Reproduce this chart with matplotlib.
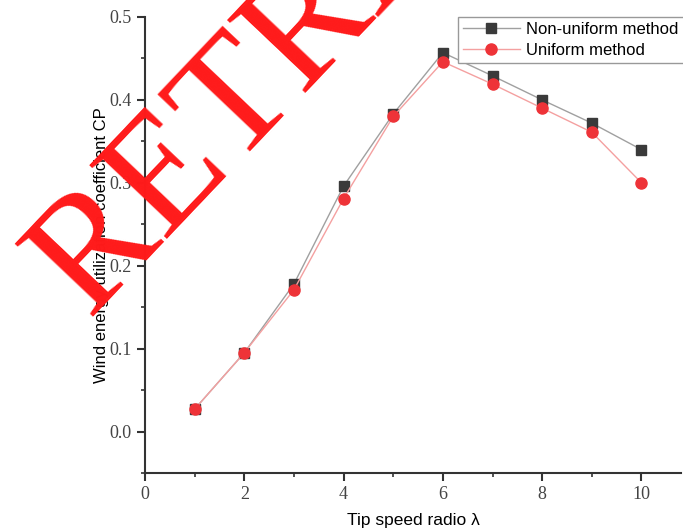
import numpy as np
import matplotlib.pyplot as plt
from matplotlib.ticker import MultipleLocator

# tip speed ratio and power coefficient
tsr = [1, 2, 3, 4, 5, 6, 7, 8, 9, 10]
cp_nonuniform = [0.027, 0.095, 0.178, 0.296, 0.383, 0.457, 0.429, 0.400, 0.372, 0.340]
cp_uniform = [0.027, 0.095, 0.171, 0.281, 0.380, 0.446, 0.419, 0.390, 0.361, 0.300]

fig = plt.figure(figsize=(6.83, 5.29), dpi=100)
ax = fig.add_axes([0.2123, 0.1059, 0.785, 0.862])

ax.plot(tsr, cp_nonuniform, color='#a0a0a0', lw=1.0, marker='s', ms=7,
        mfc='#3a3a3a', mec='#3a3a3a', label='Non-uniform method')
ax.plot(tsr, cp_uniform, color='#f4a0a0', lw=1.0, marker='o', ms=8,
        mfc='#ee3338', mec='#ee3338', label='Uniform method')

ax.set_xlim(0, 10.8)
ax.set_ylim(-0.05, 0.5)
ax.xaxis.set_major_locator(MultipleLocator(2))
ax.xaxis.set_minor_locator(MultipleLocator(1))
ax.yaxis.set_major_locator(MultipleLocator(0.1))
ax.yaxis.set_minor_locator(MultipleLocator(0.05))
ax.set_yticks(np.arange(0, 0.51, 0.1))
ax.set_yticklabels([f'{v:.1f}' for v in np.arange(0, 0.51, 0.1)])

for s in ['top', 'right']:
    ax.spines[s].set_visible(False)
for s in ['left', 'bottom']:
    ax.spines[s].set_linewidth(1.5)
    ax.spines[s].set_color('#333333')
ax.tick_params(which='major', direction='out', length=6, width=1.5, color='#333333')
ax.tick_params(which='minor', direction='out', length=3, width=1.2, color='#333333')
for lab in ax.get_xticklabels() + ax.get_yticklabels():
    lab.set_family('Liberation Serif')
    lab.set_fontsize(13)
    lab.set_color('#444444')

ax.set_xlabel('Tip speed radio λ', family='Liberation Sans', fontsize=12.5, labelpad=7)
ax.set_ylabel('Wind energy utilization coefficient CP', family='Liberation Sans', fontsize=12, labelpad=0)

leg = ax.legend(loc='upper right', bbox_to_anchor=(1.005, 1.0), prop={'family': 'Liberation Sans', 'size': 12},
                fancybox=False, edgecolor='#999999', framealpha=1, borderpad=0.3,
                handlelength=3.4, handletextpad=0.4, labelspacing=0.35, borderaxespad=0.0)

# retraction watermark
fig.text(0.129, 0.399, 'RETRACTED', family='Liberation Serif', fontsize=118, color='#ff1a1a',
         rotation=46.5, rotation_mode='anchor', ha='left', va='baseline')

fig.savefig('out.png', dpi=100)
